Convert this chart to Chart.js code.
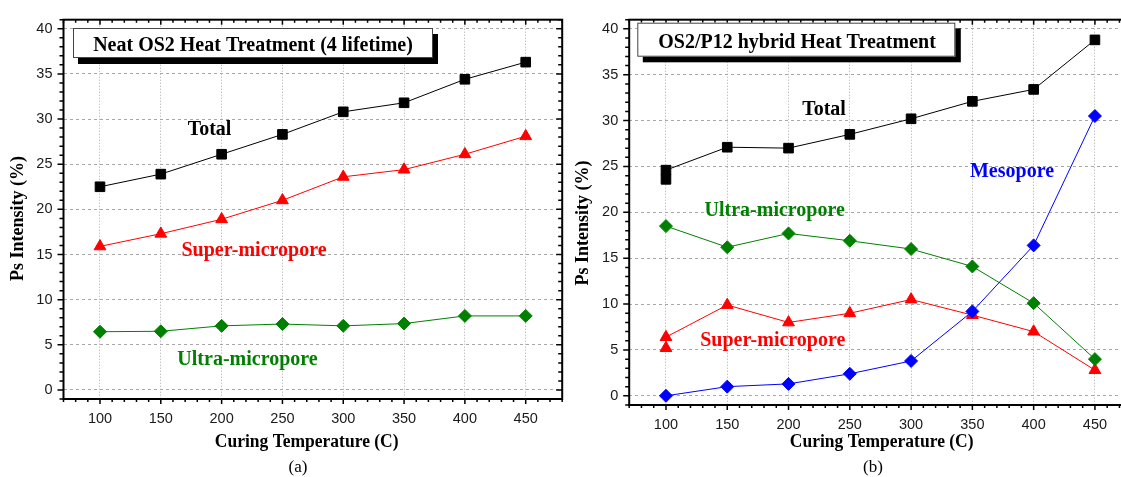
<!DOCTYPE html>
<html><head><meta charset="utf-8">
<script src="https://cdn.jsdelivr.net/npm/chart.js@4.4.1/dist/chart.umd.min.js"></script>
<style>
html,body{margin:0;padding:0;background:#fff;overflow:hidden;width:1121px;height:477px;}
#c1{position:absolute;left:0;top:0;}
#c2{position:absolute;left:570px;top:0;}
</style></head><body>
<canvas id="c1" width="570" height="477"></canvas>
<canvas id="c2" width="575" height="477"></canvas>
<script>
// ---- data ----
const temperatures = [100, 150, 200, 250, 300, 350, 400, 450];
const xTickValues = [100, 150, 200, 250, 300, 350, 400, 450];
const yTickValues = [0, 5, 10, 15, 20, 25, 30, 35, 40];

// (a) Neat OS2
const neatTotal = [22.5, 23.9, 26.1, 28.3, 30.8, 31.8, 34.4, 36.3];
const neatSuper = [15.9, 17.3, 18.9, 21.0, 23.6, 24.4, 26.1, 28.1];
const neatUltra = [6.45, 6.5, 7.1, 7.3, 7.1, 7.35, 8.2, 8.2];

// (b) OS2/P12 hybrid (two measurements at 100 C for Total and Super-micropore)
const hybridTempsDouble = [100, 100, 150, 200, 250, 300, 350, 400, 450];
const hybridTotal = [23.6, 24.6, 27.1, 27.0, 28.5, 30.2, 32.1, 33.4, 38.8];
const hybridSuper = [5.2, 6.4, 9.9, 8.0, 9.0, 10.5, 8.8, 7.0, 2.8];
const hybridUltra = [18.5, 16.2, 17.7, 16.9, 16.0, 14.1, 10.1, 4.0];
const hybridMeso = [0.0, 1.0, 1.3, 2.4, 3.8, 9.2, 16.4, 30.5];

const titleA = 'Neat OS2 Heat Treatment (4 lifetime)';
const titleB = 'OS2/P12 hybrid Heat Treatment';
const xTitle = 'Curing Temperature (C)';
const yTitle = 'Ps Intensity (%)';

// ---- helpers ----
const pts = (xs, ys) => ys.map((v, i) => ({x: xs[i], y: v}));
const SERIF = '"Liberation Serif", "Times New Roman", serif';
const SANS = '"Liberation Sans", Arial, sans-serif';

function ds(label, xs, ys, color, style, r) {
  return {
    label, data: pts(xs, ys), borderColor: color, backgroundColor: color,
    borderWidth: 1, pointStyle: style, pointRadius: r, pointBorderWidth: 1,
    pointBorderColor: color, pointBackgroundColor: color, tension: 0, fill: false
  };
}

function tallText(ctx, text, x, y, sy) {
  ctx.save();
  ctx.translate(x, y);
  ctx.scale(1, sy);
  ctx.fillText(text, 0, 0);
  ctx.restore();
}

function decor(cfg) {
  return {
    id: 'decor',
    afterDraw(chart) {
      const ctx = chart.ctx, a = chart.chartArea;
      const xs = chart.scales.x, ys = chart.scales.y;
      ctx.save();
      // ticks
      ctx.strokeStyle = '#000'; ctx.lineWidth = 1.5;
      ctx.beginPath();
      for (let v = 70; v <= 480; v += 10) {
        const px = xs.getPixelForValue(v);
        const L = v % 50 === 0 ? 5 : 3;
        ctx.moveTo(px, a.bottom); ctx.lineTo(px, a.bottom + L);
        ctx.moveTo(px, a.top); ctx.lineTo(px, a.top + L);
      }
      for (let v = -1; v <= 41; v += 1) {
        const py = ys.getPixelForValue(v);
        const L = v % 5 === 0 ? 6 : 4;
        ctx.moveTo(a.left - L, py); ctx.lineTo(a.left, py);
        ctx.moveTo(a.right - L, py); ctx.lineTo(a.right, py);
      }
      ctx.stroke();
      // frame
      ctx.lineWidth = 2;
      ctx.strokeRect(a.left, a.top, a.right - a.left, a.bottom - a.top);
      // title box
      const b = cfg.box;
      ctx.fillStyle = '#000';
      ctx.fillRect(b.x + b.sx, b.y + b.sy, b.w, b.h);
      ctx.fillStyle = '#fff';
      ctx.fillRect(b.x, b.y, b.w, b.h);
      ctx.strokeStyle = '#444'; ctx.lineWidth = 1;
      ctx.strokeRect(b.x + 0.5, b.y + 0.5, b.w - 1, b.h - 1);
      ctx.fillStyle = '#000';
      ctx.font = 'bold 20px ' + SERIF;
      ctx.textAlign = 'center'; ctx.textBaseline = 'alphabetic';
      tallText(ctx, cfg.title, b.tx, b.ty, 1.08);
      // series labels
      for (const l of cfg.labels) {
        ctx.fillStyle = l.color;
        ctx.font = 'bold 20px ' + SERIF;
        tallText(ctx, l.text, l.x, l.y, 1.1);
      }
      // axis titles
      ctx.fillStyle = '#000';
      ctx.font = 'bold 17.5px ' + SERIF;
      tallText(ctx, xTitle, cfg.xt.x, cfg.xt.y, 1.08);
      ctx.font = '17px ' + SERIF;
      ctx.fillText(cfg.panel, cfg.pt.x, cfg.pt.y);
      ctx.save();
      ctx.translate(cfg.yt.x, cfg.yt.y);
      ctx.rotate(-Math.PI / 2);
      ctx.scale(1, 1.08);
      ctx.font = 'bold 18px ' + SERIF;
      ctx.textBaseline = 'middle';
      ctx.fillText(yTitle, 0, 0);
      ctx.restore();
      ctx.restore();
    }
  };
}

function makeChart(id, datasets, cfg) {
  return new Chart(document.getElementById(id), {
    type: 'line',
    data: {datasets},
    options: {
      responsive: false, animation: false, events: [],
      layout: {padding: {left: 0, right: cfg.padR, top: cfg.padT, bottom: 0}},
      plugins: {legend: {display: false}, tooltip: {enabled: false}, title: {display: false}},
      scales: {
        x: {
          type: 'linear', min: 70, max: 480,
          afterBuildTicks: s => { s.ticks = xTickValues.map(v => ({value: v})); },
          afterFit: s => { s.height = cfg.xH; },
          grid: {color: '#a8a8a8', lineWidth: 1, drawTicks: false},
          border: {display: false, dash: [1, 2]},
          ticks: {font: {family: SANS, size: 14.5}, color: '#1a1a1a', padding: 11, maxRotation: 0, autoSkip: false}
        },
        y: {
          type: 'linear', min: -1, max: 41,
          afterBuildTicks: s => { s.ticks = yTickValues.map(v => ({value: v})); },
          afterFit: s => { s.width = cfg.yW; },
          grid: {color: '#a8a8a8', lineWidth: 1, drawTicks: false},
          border: {display: false, dash: [3, 3]},
          ticks: {font: {family: SANS, size: 14.5}, color: '#1a1a1a', padding: 11}
        }
      }
    },
    plugins: [decor(cfg)]
  });
}

makeChart('c1', [
  ds('Total', temperatures, neatTotal, '#000000', 'rect', 6.8),
  ds('Super-micropore', temperatures, neatSuper, '#ff0000', 'triangle', 6.8),
  ds('Ultra-micropore', temperatures, neatUltra, '#008000', 'rectRot', 6.5)
], {
  padR: 7, padT: 14.9, xH: 78, yW: 63.5,
  box: {x: 73, y: 28, w: 360, h: 30, sx: 5, sy: 6, tx: 253, ty: 50.5},
  title: titleA,
  labels: [
    {text: 'Total', x: 209.5, y: 135, color: '#000000'},
    {text: 'Super-micropore', x: 254, y: 256, color: '#ff0000'},
    {text: 'Ultra-micropore', x: 247.5, y: 365, color: '#008000'}
  ],
  xt: {x: 306.7, y: 447}, pt: {x: 298, y: 472}, yt: {x: 17.5, y: 218.5}, panel: '(a)'
});

makeChart('c2', [
  ds('Total', hybridTempsDouble, hybridTotal, '#000000', 'rect', 6.8),
  ds('Mesopore', temperatures, hybridMeso, '#0000ff', 'rectRot', 6.5),
  ds('Ultra-micropore', temperatures, hybridUltra, '#008000', 'rectRot', 6.5),
  ds('Super-micropore', hybridTempsDouble, hybridSuper, '#ff0000', 'triangle', 6.8)
], {
  padR: 13.3, padT: 12.4, xH: 72, yW: 59.2,
  box: {x: 67.3, y: 22.7, w: 318, h: 34, sx: 5.5, sy: 5.6, tx: 227, ty: 47.7},
  title: titleB,
  labels: [
    {text: 'Total', x: 254, y: 115, color: '#000000'},
    {text: 'Ultra-micropore', x: 204.7, y: 215.7, color: '#008000'},
    {text: 'Mesopore', x: 442, y: 176.7, color: '#0000ff'},
    {text: 'Super-micropore', x: 202.8, y: 345.7, color: '#ff0000'}
  ],
  xt: {x: 311.7, y: 447}, pt: {x: 303, y: 472}, yt: {x: 13, y: 223}, panel: '(b)'
});
</script>
</body></html>
